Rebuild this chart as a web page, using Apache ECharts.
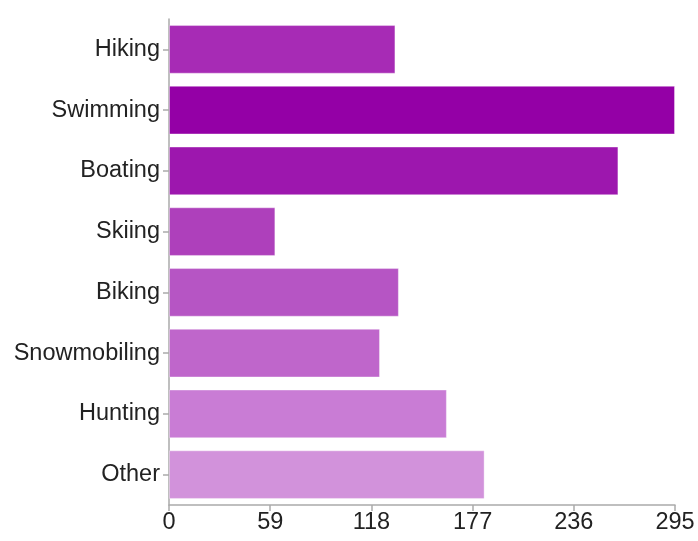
<!DOCTYPE html>
<html>
<head>
<meta charset="utf-8">
<script src="https://cdn.jsdelivr.net/npm/echarts@6/dist/echarts.min.js"></script>
<style>
  html, body { margin: 0; padding: 0; background: #fff; }
  #chart { width: 698px; height: 541px; }
</style>
</head>
<body>
<div id="chart"></div>
<script>
// Outdoor activities, top to bottom
const categories = ['Hiking', 'Swimming', 'Boating', 'Skiing', 'Biking', 'Snowmobiling', 'Hunting', 'Other'];
const counts = [132, 295, 262, 62, 134, 123, 162, 184];
const barColors = ['#a72bb5', '#9400a6', '#9d17ae', '#ae40bb', '#b655c4', '#bf66cb', '#c97cd5', '#d292db'];
const xTicks = [0, 59, 118, 177, 236, 295];

const chart = echarts.init(document.getElementById('chart'), null, { renderer: 'canvas' });

const axisColor = '#aaaaaa';
const textStyle = { color: '#222', fontFamily: 'Liberation Sans, Arial, sans-serif', fontSize: 23.5 };

chart.setOption({
  animation: false,
  grid: { left: 169, right: 23, top: 19, bottom: 36 },
  xAxis: {
    type: 'value',
    min: xTicks[0],
    max: xTicks[xTicks.length - 1],
    interval: xTicks[1] - xTicks[0],
    axisLine: { show: true, lineStyle: { color: axisColor, width: 1.5 } },
    axisTick: { show: true, length: 6, lineStyle: { color: axisColor, width: 1.5 } },
    splitLine: { show: false },
    axisLabel: Object.assign({ margin: 6 }, textStyle)
  },
  yAxis: {
    type: 'category',
    inverse: true,
    data: categories,
    axisLine: { show: true, lineStyle: { color: axisColor, width: 1.5 } },
    axisTick: { show: true, alignWithLabel: true, length: 6, lineStyle: { color: axisColor, width: 1.5 } },
    axisLabel: Object.assign({ margin: 9 }, textStyle)
  },
  series: [{
    type: 'bar',
    barCategoryGap: '20%',
    data: counts.map((v, i) => ({
      value: v,
      itemStyle: { color: barColors[i], borderColor: 'rgba(255,255,255,0.35)', borderWidth: 1 }
    }))
  }]
});
</script>
</body>
</html>
